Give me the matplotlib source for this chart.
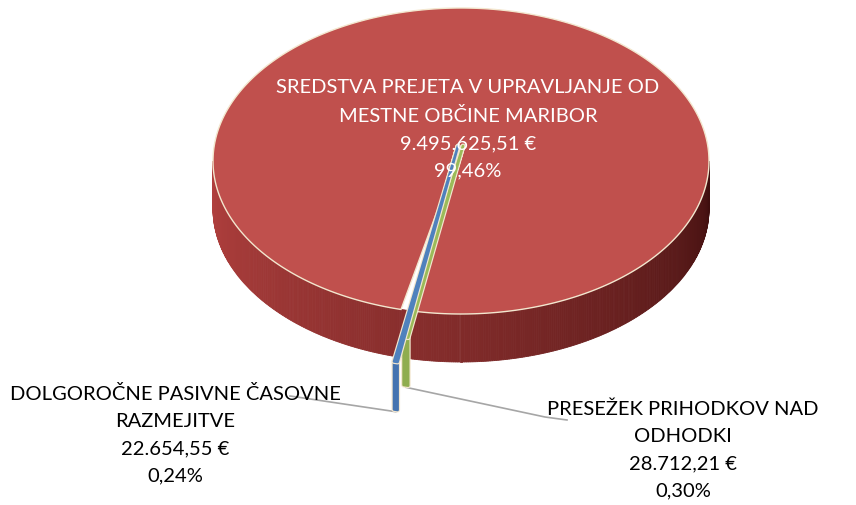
import numpy as np
import matplotlib.pyplot as plt
from matplotlib.patches import Polygon

# data
names = ["SREDSTVA PREJETA V UPRAVLJANJE OD\nMESTNE OBČINE MARIBOR",
         "DOLGOROČNE PASIVNE ČASOVNE\nRAZMEJITVE",
         "PRESEŽEK PRIHODKOV NAD\nODHODKI"]
values = [9495625.51, 22654.55, 28712.21]
colors = ["#c0504d", "#4f81bd", "#9bbb59"]
wall_cols = [None, "#4574b0", "#8fad4f"]

plt.rcParams['font.family'] = ['Lato', 'DejaVu Sans']

cx, cy = 461, 162
rx, ry = 248, 153
apex = (461, 147)
depth = 48
start = 256.0  # where the small slices begin (deg, ccw, y up)
explode = [(0, 0), (-7, 52), (-1, 27)]
apex_shift = [0, -3, 2]


def pt(t, dx=0, dy=0, down=0):
    r = np.radians(t)
    return (cx + rx * np.cos(r) + dx, cy - ry * np.sin(r) + dy + down)


def eur(v):
    s = f"{v:,.2f}"
    return s.replace(",", "X").replace(".", ",").replace("X", ".") + " €"


def pct(v, tot):
    return f"{v / tot * 100:.2f}".replace(".", ",") + "%"


total = sum(values)
ang = [v / total * 360 for v in values]
t_blue = (start, start + ang[1])
t_green = (t_blue[1], t_blue[1] + ang[2])
t_red = (t_green[1], start + 360)

fig = plt.figure(figsize=(8.56, 5.06), dpi=100)
ax = fig.add_axes([0, 0, 1, 1])
ax.set_xlim(0, 856)
ax.set_ylim(506, 0)
ax.axis('off')

edge = "#f3e7cf"


def side_wall(t0, t1, dx, dy, col_fn, z):
    ts = np.linspace(t0, t1, max(2, int(abs(t1 - t0) * 2)))
    for a, b in zip(ts[:-1], ts[1:]):
        quad = [pt(a, dx, dy), pt(b, dx, dy), pt(b, dx, dy, depth), pt(a, dx, dy, depth)]
        c = col_fn((a + b) / 2)
        ax.add_patch(Polygon(quad, closed=True, facecolor=c, edgecolor=c, lw=0.6, zorder=z))


def red_side(t):
    f = np.clip((t - 180) / 180, 0, 1)
    c0 = np.array([178, 64, 62]) / 255
    c1 = np.array([62, 14, 14]) / 255
    k = 1 - (1 - f) ** 0.8
    return tuple(c0 * (1 - k) + c1 * k)


# red slice wall (front half; the gap is hidden behind the small slices)
side_wall(180, 360, 0, 0, red_side, 1)

# red top face
ts = np.linspace(t_red[0], t_red[1], 400)
poly = [apex] + [pt(t) for t in ts]
ax.add_patch(Polygon(poly, closed=True, facecolor=colors[0], edgecolor=edge, lw=1.0, zorder=2))

# small exploded slices (outlined so the thin wedges stay visible)
for i, (t0, t1) in [(2, t_green), (1, t_blue)]:
    dx, dy = explode[i]
    wall = [pt(t0, dx, dy), pt(t1, dx, dy), pt(t1, dx, dy, depth), pt(t0, dx, dy, depth)]
    ts = np.linspace(t0, t1, 10)
    top = [(apex[0] + apex_shift[i], apex[1])] + [pt(t, dx, dy) for t in ts]
    z0 = 3 if i == 2 else 4
    for shape, fc, z in [(wall, wall_cols[i], z0), (top, colors[i], z0 + 0.3)]:
        ax.add_patch(Polygon(shape, closed=True, facecolor=fc, edgecolor=edge,
                             lw=3.6, joinstyle='round', zorder=z))
        ax.add_patch(Polygon(shape, closed=True, facecolor=fc, edgecolor=fc,
                             lw=1.9, joinstyle='round', zorder=z + 0.1))

# leader lines
lead = "#a6a6a6"
bx, by = pt(np.mean(t_blue), *explode[1], depth)
ax.plot([bx, 290], [by + 2, 397], color=lead, lw=1.2, zorder=2.5)
gx, gy = pt(np.mean(t_green), *explode[2], depth)
ax.plot([gx, 545, 567], [gy + 2, 418, 421], color=lead, lw=1.2, zorder=2.5)

# labels
fs = 14.5
ls = 1.72
ax.text(468, 129, names[0] + "\n" + eur(values[0]) + "\n" + pct(values[0], total),
        ha='center', va='center', color='white', fontsize=fs, linespacing=ls, zorder=7)
ax.text(175, 435, names[1] + "\n" + eur(values[1]) + "\n" + pct(values[1], total),
        ha='center', va='center', color='black', fontsize=fs, linespacing=ls, zorder=7)
ax.text(683, 450, names[2] + "\n" + eur(values[2]) + "\n" + pct(values[2], total),
        ha='center', va='center', color='black', fontsize=fs, linespacing=ls, zorder=7)

fig.savefig("out.png", dpi=100)
